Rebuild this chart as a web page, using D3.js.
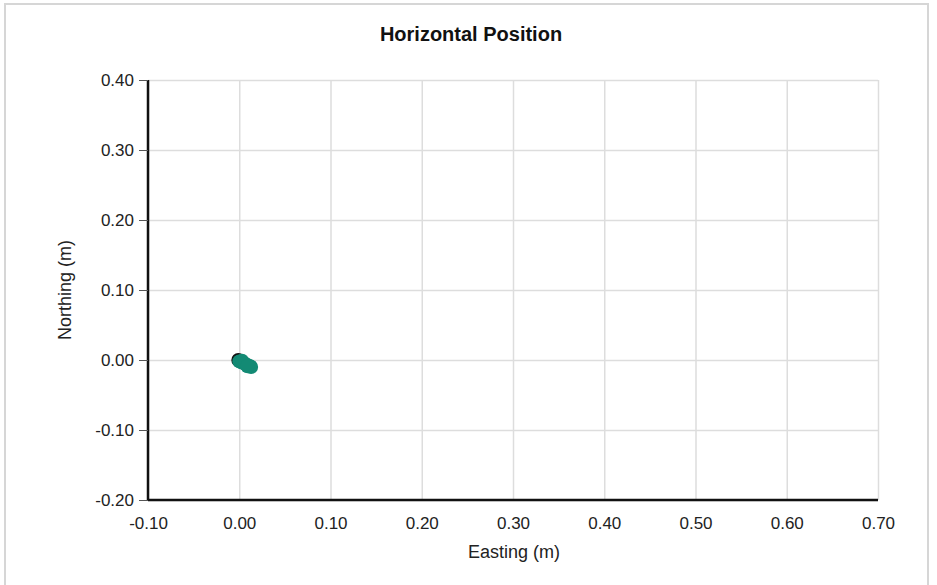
<!DOCTYPE html>
<html>
<head>
<meta charset="utf-8">
<script src="https://cdn.jsdelivr.net/npm/d3@7"></script>
<style>
  body { margin: 0; background: #fff; font-family: "Liberation Sans", Arial, sans-serif; }
  .frame { position: absolute; left: 4px; top: 3px; width: 925px; height: 600px; border: 2px solid #d6d6d6; box-sizing: border-box; }
  .grid line { stroke: #dddddd; stroke-width: 1.5; }
  .grid path { display: none; }
</style>
</head>
<body>
<div class="frame"></div>
<svg id="chart" width="937" height="585" style="position:absolute;left:0;top:0"></svg>
<script>
  // data
  const xTicks = [-0.10, 0.00, 0.10, 0.20, 0.30, 0.40, 0.50, 0.60, 0.70];
  const yTicks = [-0.20, -0.10, 0.00, 0.10, 0.20, 0.30, 0.40];
  const refEasting = [-0.001];
  const refNorthing = [0.000];
  const easting = [0.000, 0.002, 0.004, 0.006, 0.008, 0.010, 0.012, 0.013, 0.003, 0.009];
  const northing = [-0.002, -0.003, -0.004, -0.005, -0.007, -0.008, -0.009, -0.010, -0.001, -0.009];

  const margin = { top: 80, bottom: 85, left: 148, right: 59 };
  const width = 937, height = 585;
  const svg = d3.select("#chart");
  const fmt = d => d3.format(".2f")(d).replace("\u2212", "-");

  const xScale = d3.scaleLinear()
    .domain([-0.10, 0.70])
    .range([margin.left, width - margin.right]);
  const yScale = d3.scaleLinear()
    .domain([-0.20, 0.40])
    .range([height - margin.bottom, margin.top]);

  // grid
  svg.append("g")
    .attr("class", "grid")
    .attr("transform", `translate(0, ${height - margin.bottom})`)
    .call(d3.axisBottom(xScale).tickValues(xTicks)
      .tickSize(-(height - margin.top - margin.bottom)).tickFormat(""));
  svg.append("g")
    .attr("class", "grid")
    .attr("transform", `translate(${margin.left},0)`)
    .call(d3.axisLeft(yScale).tickValues(yTicks)
      .tickSize(-(width - margin.left - margin.right)).tickFormat(""));

  // axes
  const xAxis = svg.append("g")
    .attr("transform", `translate(0, ${height - margin.bottom})`)
    .call(d3.axisBottom(xScale).tickValues(xTicks).tickSize(0).tickPadding(17)
      .tickFormat(fmt));
  const yAxis = svg.append("g")
    .attr("transform", `translate(${margin.left},0)`)
    .call(d3.axisLeft(yScale).tickValues(yTicks).tickSize(9).tickPadding(5)
      .tickFormat(fmt));
  [xAxis, yAxis].forEach(a => {
    a.select(".domain").attr("stroke", "#111").attr("stroke-width", 2.5);
    a.selectAll("text").attr("font-size", 17).attr("fill", "#222")
      .attr("font-family", "Liberation Sans, Arial, sans-serif");
    a.selectAll(".tick line").attr("stroke", "#555");
  });
  xAxis.select(".domain").attr("d", `M${margin.left},0H${width - margin.right}`);
  yAxis.select(".domain").attr("d", `M0,${margin.top}V${height - margin.bottom}`);

  // points
  svg.append("g").selectAll("circle")
    .data(refEasting.map((e, i) => ({ e, n: refNorthing[i] })))
    .join("circle")
    .attr("cx", d => xScale(d.e))
    .attr("cy", d => yScale(d.n))
    .attr("r", 7)
    .attr("fill", "#111");
  svg.append("g").selectAll("circle")
    .data(easting.map((e, i) => ({ e, n: northing[i] })))
    .join("circle")
    .attr("cx", d => xScale(d.e))
    .attr("cy", d => yScale(d.n))
    .attr("r", 7)
    .attr("fill", "#138a74");

  // titles
  svg.append("text")
    .attr("x", 471).attr("y", 41)
    .attr("text-anchor", "middle")
    .attr("font-size", 20).attr("font-weight", "bold").attr("fill", "#111")
    .text("Horizontal Position");
  svg.append("text")
    .attr("x", (margin.left + width - margin.right) / 2 + 1).attr("y", 558)
    .attr("text-anchor", "middle")
    .attr("font-size", 18).attr("fill", "#222")
    .text("Easting (m)");
  svg.append("text")
    .attr("transform", `translate(71, ${(margin.top + height - margin.bottom) / 2}) rotate(-90)`)
    .attr("text-anchor", "middle")
    .attr("font-size", 18).attr("fill", "#222")
    .text("Northing (m)");
</script>
</body>
</html>
